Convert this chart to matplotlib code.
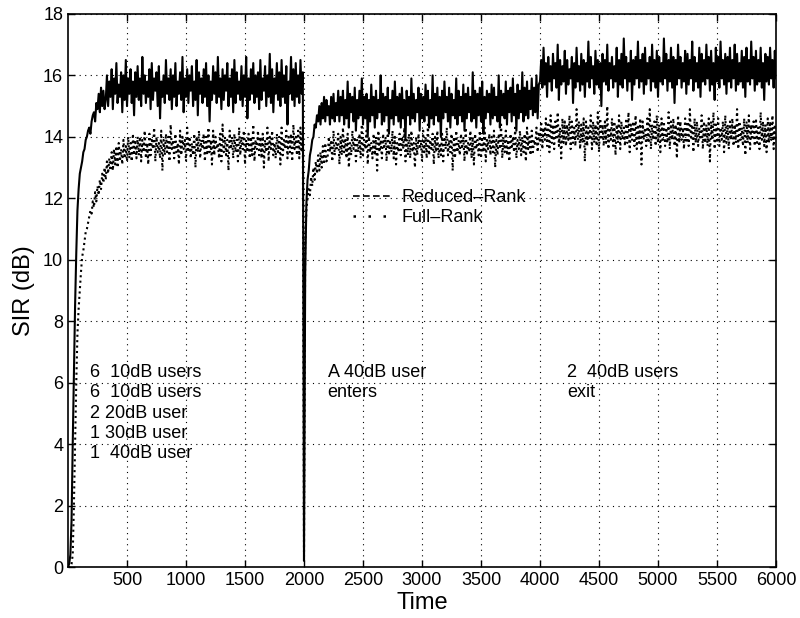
import numpy as np
import matplotlib.pyplot as plt
from matplotlib.lines import Line2D

plt.rcParams['font.family'] = ['Liberation Sans', 'DejaVu Sans']

# sampling interval of the traces
dt = 10
# segment start times (users change at 2000 and 4000)
seg_start = [0, 2000, 4000]

# Reduced-Rank SIR (dB)
rr_seg1 = [0.0, 0.1, 0.4, 1.5, 4.0, 6.2, 8.5, 10.2, 11.6, 12.3, 12.8, 13.0, 13.2, 13.5, 13.6, 13.9,
           14.0, 14.2, 14.3, 14.1, 14.5, 14.7, 14.8, 14.5, 15.1, 14.9, 15.4, 14.8, 15.6, 15.0, 15.5, 14.9,
           15.2, 16.0, 15.0, 15.8, 15.3, 16.2, 14.9, 15.9, 15.4, 16.4,
           15.1, 15.7, 15.3, 16.1, 14.8, 16.0, 15.2, 16.5, 15.0, 15.9,
           15.4, 16.2, 15.1, 15.8, 14.7, 16.1, 15.3, 16.3, 15.2, 15.9,
           15.0, 16.6, 15.4, 16.0, 15.1, 15.8, 15.3, 16.2, 14.9, 16.4,
           15.2, 15.9, 15.5, 16.1, 15.0, 16.3, 14.6, 15.8, 15.3, 16.0,
           15.1, 16.5, 15.4, 15.9, 15.2, 16.2, 14.9, 16.0, 15.3, 16.4,
           15.0, 15.8, 15.4, 16.1, 15.2, 16.6, 14.8, 15.9, 15.3, 16.2,
           15.1, 16.0, 15.5, 16.3, 15.0, 15.8, 15.2, 16.5, 14.7, 16.1,
           15.4, 15.9, 15.1, 16.2, 15.3, 16.4, 15.0, 16.0, 14.5, 15.8,
           15.2, 16.3, 15.4, 16.1, 15.1, 16.6, 15.3, 15.9, 14.9, 16.2,
           15.2, 16.0, 15.5, 16.4, 15.0, 15.9, 15.3, 16.2, 14.8, 16.5,
           15.1, 16.1, 15.4, 15.8, 15.2, 16.3, 15.0, 16.0, 15.3, 16.6,
           14.6, 15.9, 15.2, 16.2, 15.4, 16.4, 15.1, 16.0, 15.3, 16.1,
           14.9, 16.5, 15.2, 15.9, 15.5, 16.3, 15.0, 16.0, 15.3, 16.7,
           15.1, 16.2, 14.8, 15.9, 15.4, 16.4, 15.2, 16.1, 15.0, 16.5,
           15.3, 16.0, 15.1, 16.3, 14.4, 15.8, 15.4, 16.6, 15.2, 16.2,
           15.0, 16.4, 15.3, 16.0, 15.1, 16.5, 15.4, 16.1]
rr_seg2 = [0.2, 9.5, 11.8, 12.6, 12.9, 13.4, 13.6, 13.9, 14.0, 14.4, 14.3, 14.7, 14.5, 15.0, 14.4,
           15.1, 14.6, 15.3, 14.5, 15.2, 14.7, 15.0, 14.4, 15.3, 14.6, 15.4, 14.5, 15.1, 14.7, 15.5,
           14.5, 15.3, 14.7, 15.5, 14.4, 15.2, 14.6, 15.8, 14.3, 15.4,
           14.8, 15.3, 14.5, 15.6, 14.2, 15.2, 14.6, 15.5, 14.7, 15.9,
           14.4, 15.3, 14.6, 15.4, 14.0, 15.2, 14.5, 15.7, 14.7, 15.3,
           14.3, 15.5, 14.6, 15.2, 14.8, 16.0, 14.4, 15.4, 14.5, 15.3,
           14.7, 15.6, 14.1, 15.2, 14.6, 15.5, 14.4, 15.8, 14.7, 15.3,
           14.5, 15.4, 14.3, 15.6, 14.6, 15.2, 13.9, 15.5, 14.7, 15.3,
           14.4, 15.9, 14.6, 15.4, 14.5, 15.2, 14.8, 15.6, 14.2, 15.4,
           14.6, 15.3, 14.5, 15.7, 14.7, 15.5, 14.3, 15.2, 14.6, 16.0,
           14.4, 15.4, 14.7, 15.6, 14.5, 15.3, 14.0, 15.5, 14.6, 15.8,
           14.8, 15.3, 14.5, 15.6, 14.3, 15.4, 14.7, 15.2, 14.6, 15.9,
           14.4, 15.5, 14.7, 15.3, 14.5, 15.7, 14.2, 15.4, 14.6, 15.6,
           14.8, 15.3, 14.5, 16.1, 14.6, 15.5, 14.3, 15.4, 14.7, 15.6,
           14.5, 15.8, 14.1, 15.3, 14.6, 15.5, 14.8, 15.4, 14.4, 15.7,
           14.6, 15.6, 14.7, 15.3, 14.5, 16.0, 14.3, 15.5, 14.7, 15.4,
           14.6, 15.8, 14.4, 15.5, 14.8, 15.6, 14.5, 15.9, 14.7, 15.4,
           14.2, 15.7, 14.6, 15.5, 14.8, 16.1, 14.5, 15.6, 14.7, 15.8,
           14.6, 15.5, 14.9, 15.9, 14.7, 15.6, 14.8, 16.0, 14.6, 15.7]
rr_seg3 = [15.8, 16.5, 15.6, 16.9, 15.7, 16.4, 15.3, 16.6, 15.8, 16.3,
           15.5, 16.7, 15.9, 16.4, 15.6, 17.0, 15.2, 16.5, 15.7, 16.3,
           15.8, 16.8, 15.4, 16.5, 15.7, 16.2, 15.9, 16.6, 15.1, 16.4,
           15.6, 16.9, 15.8, 16.3, 15.5, 16.7, 15.7, 16.5, 15.3, 16.4,
           15.8, 17.1, 15.6, 16.6, 15.9, 16.3, 15.4, 16.8, 15.7, 16.5,
           15.6, 16.4, 15.0, 16.7, 15.8, 16.5, 15.7, 17.0, 15.5, 16.4,
           15.9, 16.6, 15.6, 16.3, 15.8, 16.9, 15.3, 16.5, 15.7, 16.7,
           15.6, 17.2, 15.9, 16.6, 15.5, 16.4, 15.8, 16.8, 15.2, 16.5,
           15.7, 16.6, 15.9, 17.1, 15.6, 16.5, 15.8, 16.7, 15.4, 16.9,
           15.7, 16.4, 15.9, 16.6, 15.5, 17.0, 15.8, 16.5, 15.6, 16.8,
           15.3, 16.6, 15.8, 16.4, 15.7, 17.2, 15.9, 16.7, 15.5, 16.5,
           15.8, 16.9, 15.6, 16.6, 15.1, 16.5, 15.7, 17.0, 15.9, 16.6,
           15.6, 16.4, 15.8, 16.8, 15.4, 16.7, 15.7, 16.5, 15.9, 17.1,
           15.5, 16.6, 15.8, 16.4, 15.6, 16.9, 15.3, 16.7, 15.8, 16.5,
           15.7, 17.0, 15.9, 16.6, 15.5, 16.8, 15.7, 16.4, 15.2, 16.9,
           15.8, 16.6, 15.6, 17.1, 15.9, 16.5, 15.7, 16.7, 15.4, 16.6,
           15.8, 16.9, 15.6, 16.5, 15.9, 17.0, 15.5, 16.7, 15.7, 16.4,
           15.8, 16.8, 15.6, 16.6, 15.3, 16.9, 15.8, 16.5, 15.7, 17.1,
           15.9, 16.6, 15.5, 16.8, 15.7, 16.5, 15.8, 16.9, 15.6, 16.4,
           15.2, 16.7, 15.8, 16.6, 15.7, 16.9, 15.9, 16.5, 15.6, 16.8,
           15.9]

# Full-Rank SIR (dB)
fr_seg1 = [0.0, 0.0, 0.0, 0.1, 0.4, 2.0, 4.0, 6.0, 7.6, 8.4,
           9.0, 9.6, 10.1, 10.3, 10.6, 10.9, 11.0, 11.2, 11.4, 11.6,
           11.5, 11.9, 11.7, 12.2, 11.9, 12.4, 12.1, 12.6, 12.3, 12.8,
           12.5, 13.0, 12.6, 13.2, 12.8, 13.3, 12.9, 13.5, 12.9, 13.6,
           13.1, 13.7, 13.0, 13.8, 13.2, 13.6, 13.1, 13.9, 13.3, 13.7,
           13.2, 14.0, 13.3, 13.8, 13.2, 14.1, 13.4, 13.9, 13.3, 14.0,
           13.4, 14.0, 13.2, 13.9, 13.5, 14.2, 13.3, 13.8, 13.1, 14.1,
           13.4, 13.9, 13.6, 14.3, 13.2, 14.0, 13.5, 13.8, 13.3, 14.2,
           12.9, 13.9, 13.4, 14.1, 13.5, 14.0, 13.2, 14.4, 13.6, 13.9,
           13.3, 14.1, 13.5, 13.8, 13.1, 14.2, 13.4, 14.0, 13.6, 13.9,
           13.2, 14.3, 13.5, 14.0, 13.3, 13.8, 13.4, 14.1, 13.0, 14.0,
           13.5, 14.2, 13.3, 13.9, 13.6, 14.1, 13.2, 14.0, 13.4, 14.3,
           13.5, 13.9, 13.1, 14.2, 13.4, 14.0, 13.6, 13.8, 13.3, 14.1,
           13.2, 14.4, 13.5, 14.0, 13.4, 13.9, 12.9, 14.2, 13.6, 14.0,
           13.3, 14.1, 13.5, 13.9, 13.2, 14.3, 13.4, 14.0, 13.6, 14.2,
           13.1, 13.9, 13.5, 14.1, 13.3, 14.0, 13.4, 14.4, 13.2, 13.9,
           13.6, 14.2, 13.4, 14.0, 13.3, 14.1, 13.0, 13.9, 13.5, 14.3,
           13.2, 14.0, 13.6, 14.2, 13.4, 13.8, 13.3, 14.1, 13.5, 14.0,
           13.1, 14.3, 13.4, 13.9, 13.6, 14.2, 13.3, 14.0, 13.5, 14.1,
           13.2, 14.4, 13.6, 14.0, 13.4, 14.2, 13.3, 14.3, 13.5, 14.1]
fr_seg2 = [0.5, 10.5, 11.6, 12.0, 12.3, 12.1, 12.7, 12.4, 13.0, 12.6,
           13.2, 12.8, 13.4, 12.9, 13.5, 13.0, 13.7, 13.1, 13.8, 13.2,
           13.3, 14.0, 13.5, 13.9, 13.2, 14.2, 13.4, 13.8, 13.6, 14.1,
           13.1, 14.0, 13.4, 14.3, 13.5, 13.9, 13.3, 14.1, 13.0, 13.8,
           13.4, 14.2, 13.6, 14.0, 13.2, 13.9, 13.5, 14.1, 13.3, 14.4,
           13.4, 13.9, 13.6, 14.2, 13.1, 14.0, 13.5, 13.8, 13.3, 14.1,
           13.4, 14.0, 12.9, 14.2, 13.5, 13.9, 13.3, 14.1, 13.6, 14.0,
           13.2, 14.3, 13.4, 13.9, 13.5, 14.2, 13.3, 14.0, 13.1, 13.8,
           13.5, 14.1, 13.4, 14.0, 13.6, 14.3, 13.2, 13.9, 13.4, 14.1,
           13.3, 14.2, 13.5, 13.8, 13.0, 14.0, 13.4, 14.1, 13.6, 13.9,
           13.2, 14.2, 13.5, 14.0, 13.3, 14.4, 13.4, 13.9, 13.6, 14.1,
           13.1, 14.0, 13.5, 14.2, 13.3, 13.8, 13.4, 14.1, 13.2, 14.0,
           13.6, 14.3, 13.4, 13.9, 13.5, 14.1, 12.9, 14.0, 13.3, 14.2,
           13.5, 13.9, 13.4, 14.1, 13.6, 14.0, 13.2, 14.3, 13.4, 13.8,
           13.5, 14.2, 13.3, 14.0, 13.1, 14.1, 13.6, 13.9, 13.4, 14.2,
           13.3, 14.0, 13.5, 14.3, 13.2, 13.9, 13.6, 14.1, 13.4, 14.0,
           13.5, 14.2, 13.0, 13.9, 13.4, 14.1, 13.6, 14.4, 13.3, 14.0,
           13.5, 14.2, 13.4, 13.9, 13.2, 14.1, 13.6, 14.0, 13.5, 14.3,
           13.3, 13.9, 13.6, 14.2, 13.4, 14.0, 13.5, 14.1, 13.2, 14.3,
           13.6, 14.0, 13.4, 14.2, 13.5, 13.9, 13.7, 14.3, 13.5, 14.1]
fr_seg3 = [13.8, 14.5, 13.6, 14.3, 13.9, 14.6, 13.7, 14.4, 13.5, 14.7,
           13.8, 14.4, 13.6, 14.5, 13.9, 14.8, 13.7, 14.3, 13.3, 14.6,
           13.8, 14.5, 13.7, 14.4, 13.9, 14.7, 13.6, 14.5, 13.8, 14.3,
           13.7, 14.9, 13.9, 14.5, 13.6, 14.4, 13.8, 14.6, 13.2, 14.5,
           13.7, 14.3, 13.9, 14.7, 13.6, 14.5, 13.8, 14.4, 13.7, 14.8,
           13.5, 14.6, 13.9, 14.4, 13.7, 14.5, 13.8, 15.0, 13.6, 14.3,
           13.9, 14.6, 13.7, 14.5, 13.4, 14.4, 13.8, 14.7, 13.6, 14.5,
           13.9, 14.3, 13.7, 14.6, 13.8, 14.8, 13.5, 14.4, 13.9, 14.5,
           13.7, 14.7, 13.6, 14.4, 13.8, 14.6, 13.1, 14.5, 13.9, 14.3,
           13.7, 14.6, 13.8, 14.9, 13.6, 14.4, 13.9, 14.5, 13.7, 14.7,
           13.8, 14.4, 13.5, 14.6, 13.9, 14.5, 13.7, 14.3, 13.8, 14.8,
           13.6, 14.5, 13.9, 14.6, 13.7, 14.4, 13.3, 14.7, 13.8, 14.5,
           13.9, 14.3, 13.6, 14.6, 13.8, 14.5, 13.7, 14.9, 13.9, 14.4,
           13.5, 14.6, 13.8, 14.5, 13.7, 14.3, 13.9, 14.7, 13.6, 14.5,
           13.8, 14.4, 13.7, 14.6, 13.2, 14.5, 13.9, 14.8, 13.6, 14.4,
           13.8, 14.6, 13.7, 14.3, 13.9, 14.5, 13.5, 14.7, 13.8, 14.4,
           13.6, 14.5, 13.9, 14.6, 13.7, 14.4, 13.8, 14.9, 13.6, 14.5,
           13.9, 14.3, 13.7, 14.6, 13.4, 14.5, 13.8, 14.7, 13.6, 14.4,
           13.9, 14.5, 13.7, 14.6, 13.8, 14.3, 13.6, 14.8, 13.9, 14.5,
           13.7, 14.4, 13.5, 14.6, 13.8, 14.5, 13.9, 14.7, 13.6, 14.4,
           13.8]

notes = ["6  10dB users\n6  10dB users\n2 20dB user\n1 30dB user\n1  40dB user",
         "A 40dB user\nenters",
         "2  40dB users\nexit"]
note_pos = [(190, 6.6), (2200, 6.6), (4230, 6.6)]


def build(segs):
    t, v = [], []
    for s, vals in zip(seg_start, segs):
        t.append(s + dt * np.arange(len(vals)))
        v.append(np.asarray(vals))
    return np.concatenate(t), np.concatenate(v)


t_rr, v_rr = build([rr_seg1, rr_seg2, rr_seg3])
t_fr, v_fr = build([fr_seg1, fr_seg2, fr_seg3])

fig = plt.figure(figsize=(8, 6.18), dpi=100)
ax = fig.add_axes([0.085, 0.0825, 0.885, 0.895])

ax.plot(t_fr, v_fr, color='k', linestyle=(0, (1, 1.6)), linewidth=1.5)
ax.plot(t_rr, v_rr, color='k', linestyle='-', linewidth=1.5)

ax.set_xlim(0, 6000)
ax.set_ylim(0, 18)
ax.set_xticks(np.arange(500, 6001, 500))
ax.set_yticks(np.arange(0, 19, 2))
ax.tick_params(direction='in', top=True, right=True, length=5, labelsize=13, width=1)
ax.grid(True, color='k', linestyle=(0, (1, 4)), linewidth=0.8)
for sp in ax.spines.values():
    sp.set_linewidth(1.2)

ax.set_xlabel('Time', fontsize=17, labelpad=2)
ax.set_ylabel('SIR (dB)', fontsize=17, labelpad=6)

for txt, (x, y) in zip(notes, note_pos):
    ax.text(x, y, txt, fontsize=13, va='top', ha='left', linespacing=1.25)

handles = [Line2D([], [], color='k', linestyle=(0, (4, 2)), linewidth=1.2),
           Line2D([], [], color='k', linestyle=(0, (1, 5)), linewidth=1.8)]
ax.legend(handles, ['Reduced\u2013Rank', 'Full\u2013Rank'], loc='upper left',
          bbox_to_anchor=(0.39, 0.70), frameon=False, fontsize=13,
          handlelength=2.2, handletextpad=0.5, borderpad=0, labelspacing=0.2)

fig.savefig('out.png', dpi=100)
